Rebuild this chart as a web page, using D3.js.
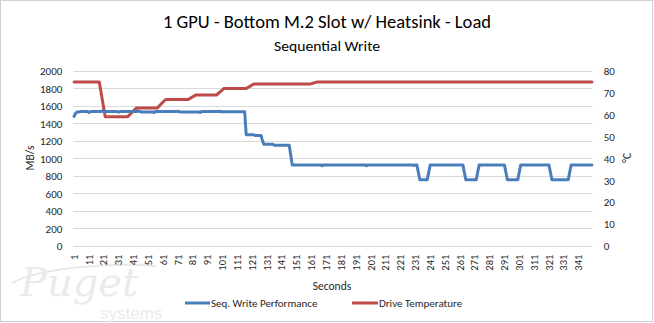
<!DOCTYPE html>
<html><head><meta charset="utf-8">
<script src="https://cdn.jsdelivr.net/npm/d3@7"></script>
<style>
html,body{margin:0;padding:0;background:#fff;}
text{font-family:Carlito,Lato,"Liberation Sans",sans-serif;}
</style></head>
<body>
<svg id="chart" width="654" height="323"></svg>
<script>
// ---------- DATA ----------
const title = "1 GPU - Bottom M.2 Slot w/ Heatsink - Load";
const subtitle = "Sequential Write";
const seriesNames = ["Seq. Write Performance", "Drive Temperature"];
const leftTicks = [0,200,400,600,800,1000,1200,1400,1600,1800,2000];
const rightTicks = [0,10,20,30,40,50,60,70,80];
const xLabelEvery = 10;   // labels 1, 11, 21, ... 341

// Seq. write (MB/s), run-length pairs [value, count]
const writeRuns = [
  [1480,1],[1515,1],[1530,2],
  [1535,6],[1525,1],[1535,8],[1545,1],[1535,10],[1528,1],[1535,12],[1540,2],[1532,9],[1525,1],
  [1535,15],[1540,1],[1532,14],[1525,1],[1535,12],[1540,1],[1533,17],
  [1270,6],[1262,5],[1200,1],[1160,7],[1150,11],[1040,1],
  [925,20],[915,1],[925,29],[915,1],[925,31],[918,1],[925,2],
  [840,1],[755,6],[840,1],[925,23],
  [840,1],[755,8],[840,1],[925,18],
  [840,1],[755,8],[840,1],[925,20],
  [840,1],[755,12],[840,1],[925,15]
];
// Drive temperature (°C), run-length pairs [value, count]
const tempRuns = [
  [75,18],[71,1],[67,1],[63,1],
  [59,16],[59.7,1],[60.3,1],[61,1],[61.7,1],[62.3,1],
  [63,15],[63.7,1],[64.4,1],[65.1,1],[65.8,1],[66.5,1],
  [67,16],[67.4,1],[67.8,1],[68.2,1],[68.6,1],
  [69,15],[69.6,1],[70.2,1],[70.8,1],[71.4,1],
  [72,16],[72.4,1],[72.8,1],[73.2,1],[73.6,1],
  [74,39],[74.2,1],[74.4,1],[74.6,1],[74.8,1],
  [75,186]
];

function expand(runs){ const out=[]; runs.forEach(([v,c])=>{for(let k=0;k<c;k++) out.push(v);}); return out; }
const writeVals = expand(writeRuns);
const tempVals = expand(tempRuns);
const categories = writeVals.map((d,i)=>i+1);

// ---------- LAYOUT ----------
const svg = d3.select("#chart");
const plot = {left:73.3, right:592.7, top:71, bottom:245.7};
const colors = {write:"#4A7EBB", temp:"#BE4B48", grid:"#D9D9D9", text:"#262626"};

svg.append("rect").attr("x",0.5).attr("y",0.5).attr("width",652).attr("height",321)
  .attr("fill","#fff").attr("stroke","#D0D0D0").attr("stroke-width",1);

// watermark
const wm = svg.append("g").attr("fill","#EBEBEB");
wm.append("path").attr("d","M12,283 C40,268 110,262 156,266").attr("fill","none").attr("stroke","#E8E8E8").attr("stroke-width",2);
wm.append("text").attr("x",20).attr("y",296).attr("font-size",40).attr("font-style","italic")
  .style("font-family","'DejaVu Serif','Liberation Serif',serif").text("Puget");
wm.append("text").attr("x",100).attr("y",319).attr("font-size",17)
  .style("font-family","'Liberation Sans',sans-serif").text("systems");

const x = d3.scaleBand().domain(categories).range([plot.left, plot.right]);
const yL = d3.scaleLinear().domain([0,2000]).range([plot.bottom, plot.top]);
const yR = d3.scaleLinear().domain([0,80]).range([plot.bottom, plot.top]);
const cx = c => x(c) + x.bandwidth()/2;

// gridlines
svg.append("g").selectAll("line").data(leftTicks).join("line")
  .attr("x1",plot.left).attr("x2",plot.right)
  .attr("y1",d=>Math.round(yL(d))+0.5).attr("y2",d=>Math.round(yL(d))+0.5)
  .attr("stroke",colors.grid).attr("stroke-width",1);

// left axis labels
const axL = d3.axisLeft(yL).tickValues(leftTicks).tickFormat(d3.format("d")).tickSize(0).tickPadding(0);
const gL = svg.append("g").attr("transform",`translate(${plot.left-11},0)`).call(axL);
gL.select(".domain").remove();
gL.selectAll("text").attr("fill",colors.text).style("font-size","11px").attr("dy","0.35em");

// right axis labels
const axR = d3.axisRight(yR).tickValues(rightTicks).tickFormat(d3.format("d")).tickSize(0).tickPadding(0);
const gR = svg.append("g").attr("transform",`translate(${plot.right+11},0)`).call(axR);
gR.select(".domain").remove();
gR.selectAll("text").attr("fill",colors.text).style("font-size","11px").attr("dy","0.35em");

// x axis labels
const xTickVals = categories.filter(c => (c-1)%xLabelEvery===0);
const axB = d3.axisBottom(x).tickValues(xTickVals).tickSize(0).tickPadding(0);
const gB = svg.append("g").attr("transform",`translate(0,${plot.bottom})`).call(axB);
gB.select(".domain").remove();
gB.selectAll("text").attr("fill",colors.text).style("font-size","10.5px")
  .attr("text-anchor","end").attr("dy","0.35em").attr("y",0)
  .attr("transform","translate(0,9) rotate(-90)");

// axis titles
svg.append("text").attr("transform","translate(30,158) rotate(-90)").attr("text-anchor","middle")
  .attr("dy","0.35em").attr("fill",colors.text).style("font-size","11.5px").text("MB/s");
svg.append("text").attr("transform","translate(627,158) rotate(-90)").attr("text-anchor","middle")
  .attr("dy","0.35em").attr("fill",colors.text).style("font-size","11.5px").text("°C");
svg.append("text").attr("x",332).attr("y",286).attr("text-anchor","middle").attr("dy","0.35em")
  .attr("fill",colors.text).style("font-size","11.5px").text("Seconds");

// titles
svg.append("text").attr("x",327).attr("y",28).attr("text-anchor","middle").attr("fill","#000")
  .style("font-size","18px").attr("textLength",328).attr("lengthAdjust","spacingAndGlyphs").text(title);
svg.append("text").attr("x",327).attr("y",51).attr("text-anchor","middle").attr("fill","#000")
  .style("font-size","13.5px").attr("textLength",106).attr("lengthAdjust","spacingAndGlyphs").text(subtitle);

// lines
const lineW = d3.line().x((d,i)=>cx(categories[i])).y(d=>yL(d));
const lineT = d3.line().x((d,i)=>cx(categories[i])).y(d=>yR(d));
svg.append("path").datum(tempVals).attr("d",lineT).attr("fill","none")
  .attr("stroke",colors.temp).attr("stroke-width",3).attr("stroke-linejoin","round").attr("stroke-linecap","round");
svg.append("path").datum(writeVals).attr("d",lineW).attr("fill","none")
  .attr("stroke",colors.write).attr("stroke-width",3).attr("stroke-linejoin","round").attr("stroke-linecap","round");

// legend
const leg = svg.append("g");
const legItems = [
  {name:seriesNames[0], color:colors.write, x1:185, x2:210},
  {name:seriesNames[1], color:colors.temp, x1:352, x2:378}
];
legItems.forEach(it=>{
  leg.append("line").attr("x1",it.x1).attr("x2",it.x2).attr("y1",303).attr("y2",303)
    .attr("stroke",it.color).attr("stroke-width",3);
  leg.append("text").attr("x",it.x2+1).attr("y",303).attr("dy","0.35em").attr("fill",colors.text)
    .style("font-size","11px").text(it.name);
});
</script>
</body></html>
